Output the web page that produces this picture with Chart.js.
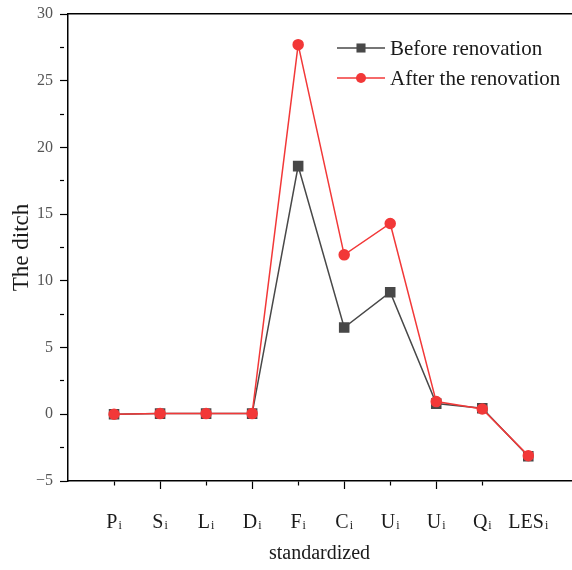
<!DOCTYPE html>
<html>
<head>
<meta charset="utf-8">
<script src="https://cdn.jsdelivr.net/npm/chart.js@4/dist/chart.umd.min.js"></script>
<style>
  body { margin: 0; background: #fff; overflow: hidden; }
  #wrap { position: relative; width: 572px; height: 570px; overflow: hidden; }
  #legend { position: absolute; left: 337px; top: 33px; font-family: "Liberation Serif", serif; font-size: 21px; color: #1a1a1a; }
  #legend .row { display: flex; align-items: center; height: 30px; white-space: nowrap; }
  #legend canvas { margin-right: 5px; }
</style>
</head>
<body>
<div id="wrap">
  <canvas id="chart" width="579" height="570"></canvas>
  <div id="legend"></div>
</div>
<script>
const categories   = ['P', 'S', 'L', 'D', 'F', 'C', 'U', 'U', 'Q', 'LES'];
const subscript    = 'i';
const beforeValues = [0, 0.05, 0.05, 0.05, 18.6, 6.5, 9.15, 0.8, 0.45, -3.15];
const afterValues  = [0, 0.05, 0.05, 0.05, 27.7, 11.95, 14.3, 0.95, 0.4, -3.1];
const yTicks       = [-5, 0, 5, 10, 15, 20, 25, 30];

const serif = '"Liberation Serif", "Times New Roman", serif';
const toPoints = vals => vals.map((v, i) => ({x: i + 1, y: v}));
const noPad = s => { s.paddingLeft = 0; s.paddingRight = 0; s.paddingTop = 0; s.paddingBottom = 0; };

// x labels with a subscript i, drawn under each category tick
const subLabels = {
  id: 'subLabels',
  afterDraw(chart) {
    const xs = chart.scales.x, ctx = chart.ctx;
    const base = xs.top + 47;
    ctx.save();
    ctx.fillStyle = '#1a1a1a';
    ctx.textAlign = 'left';
    ctx.textBaseline = 'alphabetic';
    categories.forEach((c, i) => {
      const px = xs.getPixelForValue(i + 1);
      ctx.font = '20px ' + serif;
      const w1 = ctx.measureText(c).width;
      ctx.font = '12px ' + serif;
      const w2 = ctx.measureText(subscript).width;
      const x0 = px - (w1 + w2 + 1) / 2;
      ctx.font = '20px ' + serif;
      ctx.fillText(c, x0, base);
      ctx.font = '12px ' + serif;
      ctx.fillText(subscript, x0 + w1 + 1, base + 1);
    });
    ctx.restore();
  }
};

const chart = new Chart(document.getElementById('chart'), {
  type: 'line',
  data: {
    datasets: [{
      label: 'Before renovation',
      data: toPoints(beforeValues),
      borderColor: '#484848',
      backgroundColor: '#484848',
      borderWidth: 1.5,
      pointStyle: 'rect',
      pointRadius: 6.4,
      pointHoverRadius: 6.4,
      order: 2
    }, {
      label: 'After the renovation',
      data: toPoints(afterValues),
      borderColor: '#f23838',
      backgroundColor: '#f23838',
      borderWidth: 1.5,
      pointStyle: 'circle',
      pointRadius: 5,
      pointHoverRadius: 5,
      order: 1
    }]
  },
  options: {
    responsive: false,
    animation: false,
    layout: {padding: {left: 0, top: 14, right: 0, bottom: 2}},
    plugins: {legend: {display: false}, tooltip: {enabled: false}},
    scales: {
      x: {
        type: 'linear',
        min: 0,
        max: 10.93,
        afterFit: noPad,
        border: {color: '#000', width: 1.5},
        grid: {
          drawOnChartArea: false,
          tickLength: 8,
          tickWidth: 1.2,
          tickColor: c => (Number.isInteger(c.tick.value) && c.tick.value >= 1) ? '#000' : 'rgba(0,0,0,0)',
          tickBorderDash: c => c.tick.value % 2 === 1 ? [4, 4] : [],
          tickBorderDashOffset: 0
        },
        ticks: {
          stepSize: 1,
          autoSkip: false,
          maxRotation: 0,
          padding: 1,
          color: 'rgba(0,0,0,0)',
          font: {family: serif, size: 20},
          // real labels are drawn by subLabels; these only reserve the row height
          callback: v => (Number.isInteger(v) && v >= 1 && v <= 9) ? categories[v - 1] : ''
        },
        title: {display: true, text: 'standardized', color: '#1a1a1a', font: {family: serif, size: 20}, padding: {top: 27, bottom: 2}}
      },
      xTop: {
        type: 'linear',
        position: 'top',
        min: 0, max: 1,
        afterFit: noPad,
        border: {color: '#000', width: 1.5},
        grid: {display: false, drawTicks: false},
        ticks: {display: false}
      },
      y: {
        min: -5,
        max: 30,
        afterFit: noPad,
        border: {color: '#000', width: 1.5},
        grid: {
          drawOnChartArea: false,
          tickLength: 8,
          tickWidth: 1.2,
          tickColor: '#000',
          tickBorderDash: c => c.tick.value % 5 !== 0 ? [4, 4] : [],
          tickBorderDashOffset: 0
        },
        ticks: {
          stepSize: 2.5,
          padding: 7,
          color: '#555',
          font: {family: serif, size: 16},
          callback: v => yTicks.includes(v) ? (v < 0 ? '\u2212' + Math.abs(v) : String(v)) : ''
        },
        title: {display: true, text: 'The ditch', color: '#1a1a1a', font: {family: serif, size: 23, lineHeight: 1}, padding: {top: 10, bottom: -4}}
      }
    }
  },
  plugins: [subLabels]
});

// legend: line sample with marker in the middle, then the label
const legendEl = document.getElementById('legend');
chart.data.datasets.forEach(ds => {
  const row = document.createElement('div');
  row.className = 'row';
  const sw = document.createElement('canvas');
  sw.width = 48; sw.height = 14;
  const g = sw.getContext('2d');
  g.strokeStyle = ds.borderColor;
  g.lineWidth = ds.borderWidth;
  g.beginPath(); g.moveTo(0, 7); g.lineTo(48, 7); g.stroke();
  g.fillStyle = ds.backgroundColor;
  if (ds.pointStyle === 'rect') {
    const s = ds.pointRadius * Math.SQRT1_2;
    g.fillRect(24 - s, 7 - s, 2 * s, 2 * s);
  } else {
    g.beginPath(); g.arc(24, 7, ds.pointRadius, 0, Math.PI * 2); g.fill();
  }
  const label = document.createElement('span');
  label.textContent = ds.label;
  row.appendChild(sw);
  row.appendChild(label);
  legendEl.appendChild(row);
});
</script>
</body>
</html>
